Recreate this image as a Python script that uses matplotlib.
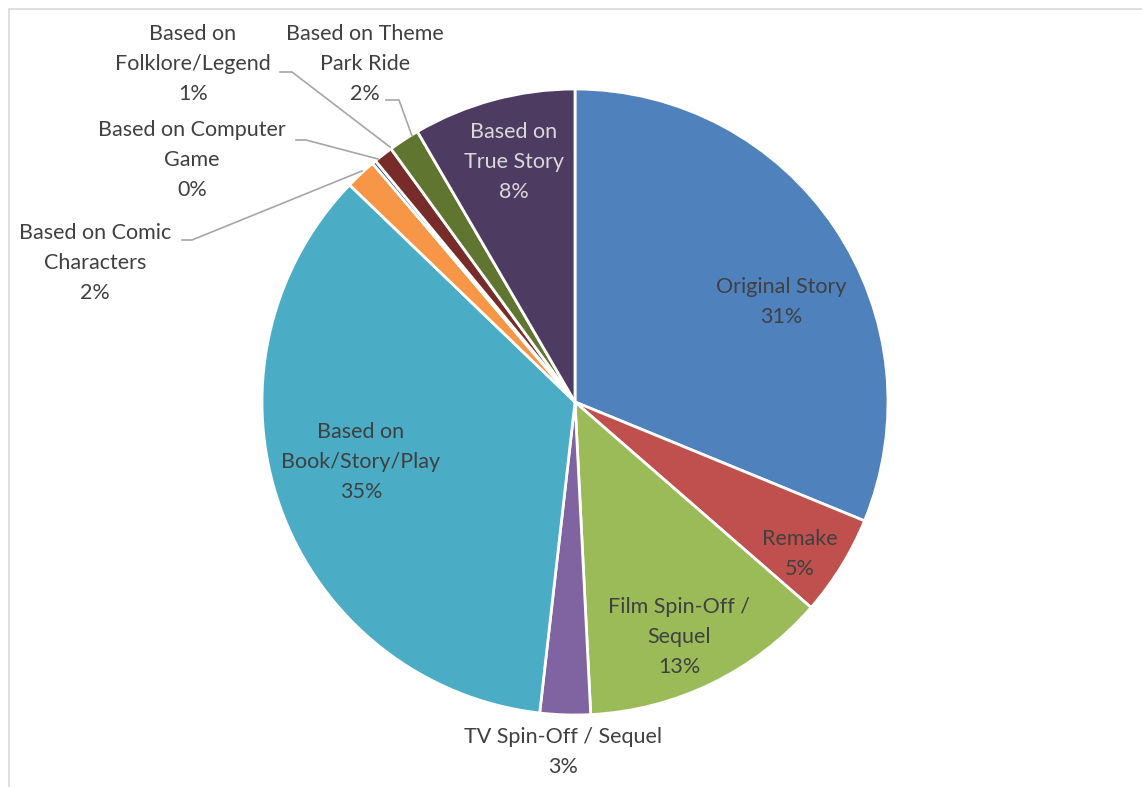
import matplotlib.pyplot as plt
import matplotlib.patches as patches

# Categorias e participação (%) de cada fonte de roteiro
categories = ['Original Story', 'Remake', 'Film Spin-Off /\nSequel', 'TV Spin-Off / Sequel',
              'Based on\nBook/Story/Play', 'Based on Comic\nCharacters', 'Based on Computer\nGame',
              'Based on\nFolklore/Legend', 'Based on Theme\nPark Ride', 'Based on\nTrue Story']
shares = [31.2, 5.2, 12.8, 2.6, 35.4, 1.6, 0.2, 1.0, 1.6, 8.4]
colors = ['#4F81BD', '#C0504D', '#9BBB59', '#8064A2', '#4BACC6',
          '#F79646', '#2C4D75', '#772C2A', '#5F7530', '#4D3B62']

W, H = 1142, 787
fig = plt.figure(figsize=(W / 100, H / 100), dpi=100)
ax = fig.add_axes([0, 0, 1, 1])

# Borda da área do gráfico
ax.add_patch(patches.Rectangle((8.5, -20), W + 20, H - 9 + 20, fill=False,
                               edgecolor='#D9D9D9', linewidth=1.2))

cx, cy, r = 575, H - 402, 313
ax.pie(shares, colors=colors, startangle=90, counterclock=False,
       center=(cx, cy), radius=r, frame=True,
       wedgeprops=dict(edgecolor='white', linewidth=2.0))
ax.set_xlim(0, W)
ax.set_ylim(0, H)
ax.set_aspect('equal')
ax.axis('off')

# Posição dos rótulos (pixels a partir do topo) e cor do texto
label_pos = [(781, 302), (800, 554), (679, 637), (563, 752), (361, 462),
             (95, 263), (192, 160), (193, 64), (365, 64), (514, 162)]
label_col = ['#404040'] * 9 + ['#D9D9D9']

for name, v, (px, py), c in zip(categories, shares, label_pos, label_col):
    ax.text(px, H - py, f'{name}\n{round(v)}%', ha='center', va='center',
            color=c, fontsize=15.5, family='Lato', linespacing=1.6)

# Linhas de chamada dos rótulos externos
leaders = [
    [(182, 240), (192, 240), (362, 171)],
    [(296, 140), (306, 140), (378, 159)],
    [(280, 72), (292, 72), (390, 147)],
    [(386, 100), (399, 100), (412, 136)],
]
for pts in leaders:
    xs = [p[0] for p in pts]
    ys = [H - p[1] for p in pts]
    ax.plot(xs, ys, color='#A6A6A6', linewidth=1.2)

fig.savefig('out.png', dpi=100)
